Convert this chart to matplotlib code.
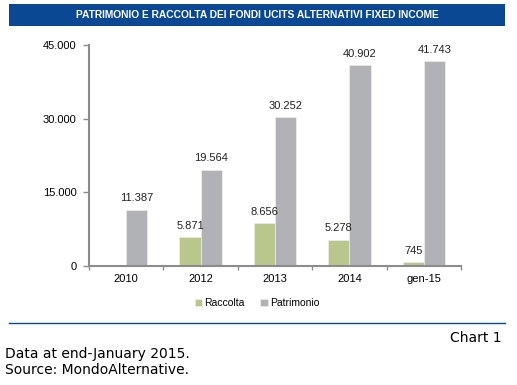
import numpy as np
import matplotlib
matplotlib.use("Agg")
import matplotlib.pyplot as plt
from matplotlib.patches import Rectangle

categories = ["2010", "2012", "2013", "2014", "gen-15"]
raccolta = [np.nan, 5871, 8656, 5278, 745]
patrimonio = [11387, 19564, 30252, 40902, 41743]
raccolta_labels = ["", "5.871", "8.656", "5.278", "745"]
patrimonio_labels = ["11.387", "19.564", "30.252", "40.902", "41.743"]
yticks = [0, 15000, 30000, 45000]
ytick_labels = ["0", "15.000", "30.000", "45.000"]

green = "#b9c78d"
grey = "#b1b2b6"
navy = "#0b4893"
axis_col = "#8c8c8c"


def main():
    fig = plt.figure(figsize=(5.17, 3.85), dpi=100)
    fig.patch.set_facecolor("white")

    # banner title
    fig.patches.append(Rectangle((9 / 517, 1 - 26 / 385), 496 / 517, 22 / 385,
                                 transform=fig.transFigure, facecolor=navy,
                                 edgecolor="none"))
    fig.text(257 / 517, 1 - 15 / 385,
             "PATRIMONIO E RACCOLTA DEI FONDI UCITS ALTERNATIVI FIXED INCOME",
             color="white", fontsize=7.4, fontweight="bold",
             family="Liberation Sans", ha="center", va="center")

    ax = fig.add_axes([89 / 517, 1 - 265.7 / 385, 372 / 517, 220.7 / 385])
    x = np.arange(len(categories))
    w = 0.285
    ax.bar(x - w / 2, raccolta, w, color=green, edgecolor="#eeeeee",
           linewidth=0.5, label="Raccolta")
    ax.bar(x + w / 2, patrimonio, w, color=grey, edgecolor="#eeeeee",
           linewidth=0.5, label="Patrimonio")

    for i in range(len(categories)):
        if raccolta_labels[i]:
            ax.text(x[i] - w / 2, raccolta[i] + 1300, raccolta_labels[i],
                    ha="center", va="bottom", fontsize=8,
                    family="Liberation Sans", color="#222222")
        ax.text(x[i] + w / 2, patrimonio[i] + 1300, patrimonio_labels[i],
                ha="center", va="bottom", fontsize=8,
                family="Liberation Sans", color="#222222")

    ax.set_xlim(-0.5, len(categories) - 0.5)
    ax.set_ylim(0, 45000)
    ax.set_yticks(yticks)
    ax.set_yticklabels(ytick_labels, family="Liberation Sans", fontsize=8)
    ax.set_xticks(x)
    ax.set_xticklabels(categories, family="Liberation Sans", fontsize=8)
    ax.set_xticks(np.arange(len(categories) + 1) - 0.5, minor=True)
    ax.tick_params(axis="x", which="major", length=0, pad=6)
    ax.tick_params(axis="x", which="minor", length=3, color=axis_col, width=1)
    ax.tick_params(axis="y", length=4, color=axis_col, width=1, pad=5)

    for s in ["top", "right"]:
        ax.spines[s].set_visible(False)
    for s in ["left", "bottom"]:
        ax.spines[s].set_color(axis_col)
        ax.spines[s].set_linewidth(1.5)

    fig.legend(loc="center", bbox_to_anchor=(257 / 517, 1 - 303 / 385),
               ncol=2, frameon=False,
               prop={"family": "Liberation Sans", "size": 7.5},
               handlelength=0.7, handleheight=0.7, handletextpad=0.2,
               columnspacing=1.5)

    # separator line and notes
    fig.add_artist(plt.Line2D([9 / 517, 505 / 517], [1 - 323 / 385] * 2,
                              transform=fig.transFigure, color=navy, linewidth=1))
    fig.text(502 / 517, 1 - 338 / 385, "Chart 1", ha="right", va="center",
             fontsize=10, family="DejaVu Sans")
    fig.text(5 / 517, 1 - 354 / 385, "Data at end-January 2015.", ha="left",
             va="center", fontsize=10, family="DejaVu Sans")
    fig.text(5 / 517, 1 - 370 / 385, "Source: MondoAlternative.", ha="left",
             va="center", fontsize=10, family="DejaVu Sans")

    plt.savefig("out.png", dpi=100)


if __name__ == "__main__":
    main()
